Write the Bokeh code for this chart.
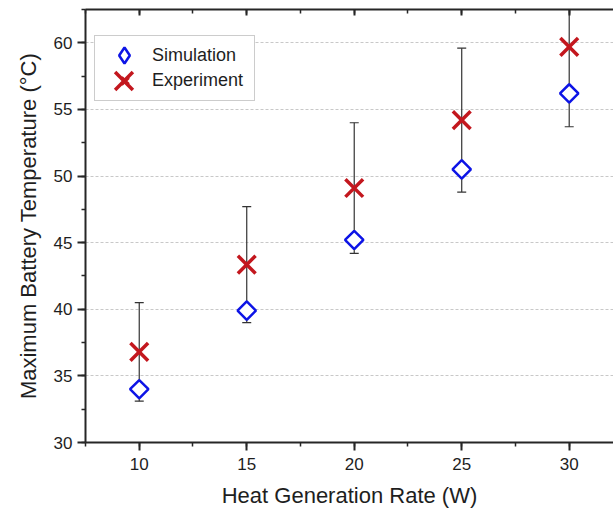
import math
from bokeh.plotting import figure
from bokeh.models import (ColumnDataSource, LinearAxis, Legend, LegendItem,
                          SingleIntervalTicker, Range1d)
from bokeh.embed import file_html
from bokeh.resources import INLINE

# ---- data ----
heat_rate = [10, 15, 20, 25, 30]
simulation = [34.0, 39.9, 45.2, 50.5, 56.2]
experiment = [36.8, 43.35, 49.1, 54.2, 59.7]
exp_error = [3.7, 4.35, 4.9, 5.4, 6.0]

FONT = "Liberation Sans"
BLUE = "#0d14e6"
RED = "#c3171e"
AXIS = "#262626"
TEXT = "#1e1e1e"

src = ColumnDataSource(dict(
    x=heat_rate, sim=simulation, exp=experiment,
    lower=[e - d for e, d in zip(experiment, exp_error)],
    upper=[e + d for e, d in zip(experiment, exp_error)],
))

p = figure(width=613, height=510, output_backend="svg", toolbar_location=None,
           x_range=Range1d(7.5, 32.06), y_range=Range1d(30, 62.5),
           min_border_left=85, min_border_right=0, min_border_top=9, min_border_bottom=68,
           x_axis_label="Heat Generation Rate (W)",
           y_axis_label="Maximum Battery Temperature (°C)")
p.outline_line_color = None
p.background_fill_color = "white"
p.border_fill_color = "white"

p.xaxis.ticker = SingleIntervalTicker(interval=5, num_minor_ticks=2)
p.yaxis.ticker = SingleIntervalTicker(interval=5, num_minor_ticks=2)

for ax in (p.xaxis[0], p.yaxis[0]):
    ax.axis_line_color = AXIS
    ax.axis_line_width = 2
    ax.major_tick_line_color = AXIS
    ax.minor_tick_line_color = AXIS
    ax.major_tick_line_width = 2
    ax.minor_tick_line_width = 1.5
    ax.major_tick_in = 0
    ax.major_tick_out = 8
    ax.minor_tick_in = 0
    ax.minor_tick_out = 4
    ax.major_label_text_font = FONT
    ax.major_label_text_font_size = "17px"
    ax.major_label_text_color = TEXT
    ax.axis_label_text_font = FONT
    ax.axis_label_text_font_size = "22px"
    ax.axis_label_text_font_style = "normal"
    ax.axis_label_text_color = TEXT

p.xaxis.major_label_standoff = 7
p.xaxis.axis_label_standoff = 10
p.xaxis.axis_label_text_line_height = 0.8
p.yaxis.major_label_standoff = 5
p.yaxis.axis_label_standoff = 10

top = LinearAxis(ticker=SingleIntervalTicker(interval=5, num_minor_ticks=2),
                 major_label_text_font_size="0px", major_label_text_color=None)
top.axis_line_color = AXIS
top.axis_line_width = 2
top.major_tick_line_color = AXIS
top.minor_tick_line_color = AXIS
top.major_tick_line_width = 2
top.minor_tick_line_width = 1.5
top.major_tick_in = 6
top.major_tick_out = 0
top.minor_tick_in = 4
top.minor_tick_out = 0
top.major_label_standoff = 0
p.add_layout(top, "above")

p.xgrid.grid_line_color = None
p.ygrid.grid_line_color = "#c8c8c8"
p.ygrid.grid_line_dash = "3 2"
p.ygrid.grid_line_width = 1

# error bars (experiment)
p.segment(x0="x", y0="lower", x1="x", y1="upper", source=src,
          line_color="#333333", line_width=1.2)
p.scatter("x", "lower", source=src, marker="dash", size=9, line_color="#333333", line_width=1.2)
p.scatter("x", "upper", source=src, marker="dash", size=9, line_color="#333333", line_width=1.2)

r_sim = p.scatter("x", "sim", source=src, marker="square", size=13, angle=math.pi / 4,
                  fill_color="white", line_color=BLUE, line_width=2.5)
r_exp = p.scatter("x", "exp", source=src, marker="x", size=25,
                  line_color=RED, line_width=3.5)
# legend-only proxy for the diamond symbol (legend glyphs are drawn unrotated)
r_sim_leg = p.scatter("x", "sim", source=src, marker="diamond", size=13,
                      fill_color="white", line_color=BLUE, line_width=2.5, visible=False)

# main legend: frame, labels
legA = Legend(items=[LegendItem(label="Simulation", renderers=[r_sim_leg]),
                     LegendItem(label="Experiment", renderers=[r_exp])],
              location=(9, 341))
legA.border_line_color = "#9a9a9a"
legA.border_line_width = 1
legA.background_fill_color = "white"
legA.background_fill_alpha = 1
legA.padding = 7
legA.spacing = 0
legA.glyph_width = 45
legA.glyph_height = 25
legA.label_standoff = 5
legA.label_width = 95
legA.label_height = 25
legA.label_text_font = FONT
legA.label_text_font_size = "18px"
legA.label_text_color = TEXT
legA.margin = 0
p.add_layout(legA, "center")

# full-size symbols drawn over the legend entries
legC = Legend(items=[LegendItem(label=" ", renderers=[r_sim_leg])], location=(19, 367))
legB = Legend(items=[LegendItem(label=" ", renderers=[r_exp])], location=(7, 330))
for lg, sz in ((legC, 40), (legB, 63)):
    lg.border_line_color = None
    lg.background_fill_alpha = 0
    lg.padding = 0
    lg.spacing = 0
    lg.glyph_width = sz
    lg.glyph_height = sz
    lg.label_standoff = 0
    lg.label_width = 0
    lg.label_text_font_size = "1px"
    lg.margin = 0
    p.add_layout(lg, "center")

open("out.html", "w").write(file_html(p, INLINE))
